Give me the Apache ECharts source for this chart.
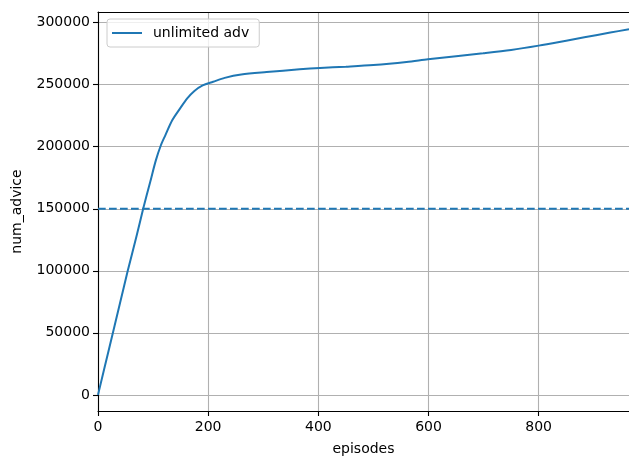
<!DOCTYPE html>
<html>
<head>
<meta charset="utf-8">
<script src="https://cdn.jsdelivr.net/npm/echarts@6/dist/echarts.min.js"></script>
<style>
  html, body { margin: 0; padding: 0; background: #fff; }
  #chart { width: 629px; height: 456px; }
</style>
</head>
<body>
<div id="chart"></div>
<script>
// episodes / cumulative advice count
const episodes = [0, 20, 40, 54, 70, 82, 95, 105, 114, 122, 135, 150, 162, 175, 190, 209, 230, 260, 306, 366, 403, 450, 500, 560, 599, 650, 699, 750, 800, 850, 883, 930, 964];
const numAdvice = [0, 37000, 74000, 100000, 128000, 150000, 172000, 189000, 201000, 209000, 221500, 231500, 239000, 245000, 249500, 252400, 255500, 258200, 260200, 262400, 263500, 264500, 265800, 268300, 270500, 273000, 275300, 278000, 281500, 285500, 288200, 292000, 294700];
const budget = 150000;
const xTicks = [0, 200, 400, 600, 800];
const yTicks = [0, 50000, 100000, 150000, 200000, 250000, 300000];
const xRange = [0, 964];
const yRange = [-13000, 308600];

const font = "DejaVu Sans";
const blue = "#1f77b4";

let myChart = echarts.init(document.getElementById("chart"));

let lineBlack = { color: "#000", width: 1.1 };
let gridLine = { show: true, lineStyle: { color: "#b0b0b0", width: 1.1 } };

let option = {
  animation: false,
  grid: { left: 98, top: 12, right: 0, bottom: 45, containLabel: false, outerBoundsMode: "none" },
  legend: {
    left: 107,
    top: 19,
    data: [{ name: "unlimited adv", icon: "path://M0,0H30V2H0Z" }],
    itemWidth: 30,
    itemHeight: 2,
    padding: [7, 10, 7, 5],
    backgroundColor: "rgba(255,255,255,0.8)",
    borderColor: "#cccccc",
    borderWidth: 1,
    borderRadius: 3,
    textStyle: { fontFamily: font, fontSize: 14, color: "#000", padding: [0, 0, 0, 6] },
  },
  xAxis: [
    {
      type: "value",
      min: xRange[0],
      max: xRange[1],
      name: "episodes",
      nameLocation: "middle",
      nameGap: 31,
      nameTextStyle: { fontFamily: font, fontSize: 14, color: "#000" },
      axisLine: { show: true, onZero: false, lineStyle: lineBlack },
      axisTick: { show: true, inside: false, length: 5, customValues: xTicks, lineStyle: lineBlack },
      axisLabel: { fontFamily: font, fontSize: 14, color: "#000", margin: 9, customValues: xTicks,
        formatter: (v) => String(v) },
      splitLine: gridLine,
    },
    {
      // top spine
      type: "value",
      position: "top",
      min: xRange[0],
      max: xRange[1],
      axisLine: { show: true, onZero: false, lineStyle: lineBlack },
      axisTick: { show: false },
      axisLabel: { show: false },
      splitLine: { show: false },
    },
  ],
  yAxis: {
    type: "value",
    min: yRange[0],
    max: yRange[1],
    name: "num_advice",
    nameLocation: "middle",
    nameRotate: 90,
    nameGap: 74,
    nameTextStyle: { fontFamily: font, fontSize: 14, color: "#000" },
    axisLine: { show: true, onZero: false, lineStyle: lineBlack },
    axisTick: { show: true, inside: false, length: 5, customValues: yTicks, lineStyle: lineBlack },
    axisLabel: { fontFamily: font, fontSize: 14, color: "#000", margin: 8, customValues: yTicks,
      formatter: (v) => String(v) },
    splitLine: gridLine,
  },
  series: [
    {
      name: "unlimited adv",
      type: "line",
      xAxisIndex: 0,
      data: episodes.map((e, i) => [e, numAdvice[i]]),
      smooth: 0.3,
      symbol: "none",
      lineStyle: { color: blue, width: 2 },
      itemStyle: { color: blue },
      z: 3,
    },
    {
      name: "budget",
      type: "line",
      xAxisIndex: 0,
      data: [[xRange[0], budget], [xRange[1], budget]],
      symbol: "none",
      lineStyle: { color: blue, width: 2, type: [7.7, 3.3] },
      itemStyle: { color: blue },
      z: 3,
    },
  ],
};

myChart.setOption(option);
</script>
</body>
</html>
